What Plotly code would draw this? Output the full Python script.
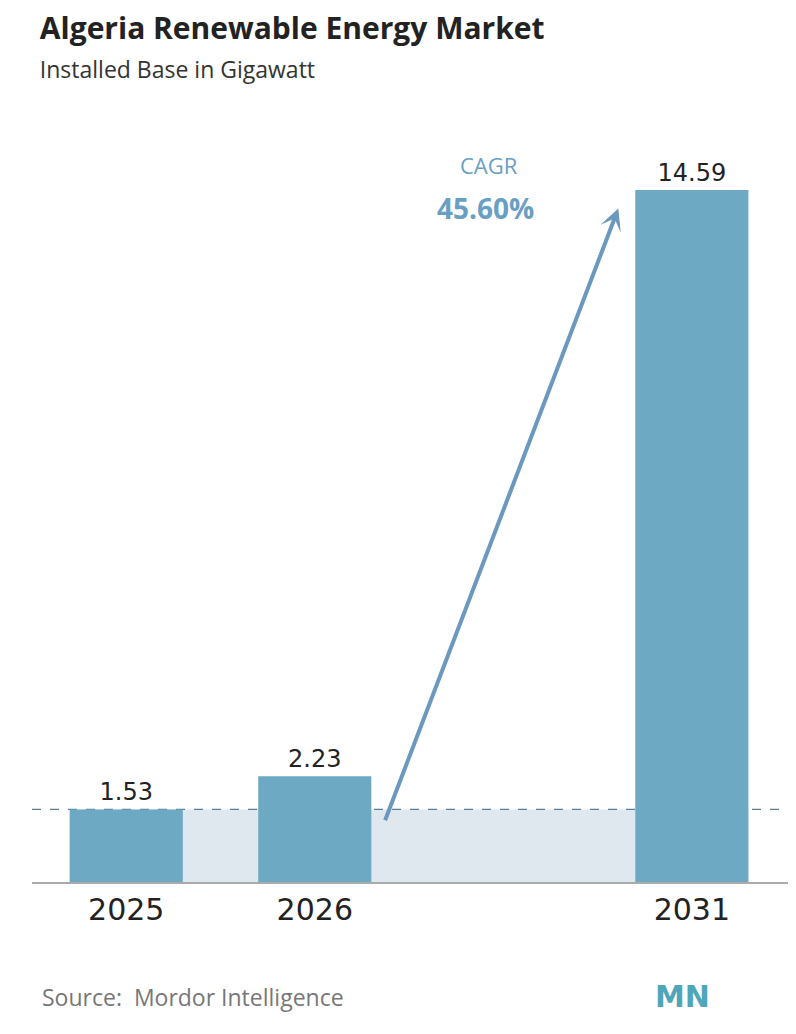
import plotly.graph_objects as go

years = ["2025", "2026", "2031"]
positions = [0, 1, 3]
values = [1.53, 2.23, 14.59]
cagr = "45.60%"

fig = go.Figure()

# light band under the first-year level
fig.add_shape(type="rect", x0=-0.3, x1=3.3, y0=0, y1=values[0],
              fillcolor="#dfe8ef", line_width=0, layer="below")
fig.add_shape(type="line", x0=-0.5, x1=3.51, y0=values[0], y1=values[0],
              line=dict(color="#5b7f99", width=1.3, dash="dash"), layer="below")

fig.add_trace(go.Bar(
    x=positions, y=values, width=0.6,
    marker=dict(color="#6ea9c3", line_width=0),
    text=[f"{v:.2f}" for v in values], textposition="outside",
    textfont=dict(size=24, color="#222", family="DejaVu Sans"),
    cliponaxis=False,
))

# CAGR arrow
fig.add_annotation(x=2.61, y=14.2, ax=1.37, ay=1.27, xref="x", yref="y",
                   axref="x", ayref="y", text="", showarrow=True,
                   arrowhead=3, arrowsize=0.9, arrowwidth=4, arrowcolor="#6a98be")
fig.add_annotation(x=0.605, y=1.06, xref="paper", yref="paper", text="CAGR", showarrow=False,
                   font=dict(size=22, color="#6a9fc4", family="Open Sans"))
fig.add_annotation(x=0.6, y=1.005, xref="paper", yref="paper", text=f"<b>{cagr}</b>",
                   showarrow=False, font=dict(size=28, color="#6a9fc4", family="Open Sans"))

fig.update_layout(
    width=796, height=1034,
    margin=dict(l=24, r=16, t=182, b=160),
    plot_bgcolor="white", paper_bgcolor="white",
    showlegend=False,
    title=dict(
        text="<b>Algeria Renewable Energy Market</b><br><span style='font-size:23px;color:#333'>Installed Base in Gigawatt</span>",
        x=0.04, xanchor="left", y=0.97, yanchor="top",
        font=dict(size=30, color="#222", family="Open Sans"),
    ),
    xaxis=dict(range=[-0.5, 3.51], tickmode="array", tickvals=positions, ticktext=years,
               tickfont=dict(size=30, color="#222", family="DejaVu Sans"),
               showgrid=False, zeroline=False, showline=True,
               linecolor="#aaaaaa", linewidth=2, ticks="", ticklen=0),
    yaxis=dict(range=[0, 14.59], visible=False),
)

fig.add_annotation(text="Source:  Mordor Intelligence", x=0.01, y=-0.166,
                   xref="paper", yref="paper", xanchor="left", yanchor="middle",
                   showarrow=False, font=dict(size=23, color="#777", family="Open Sans"))
# logo hint
fig.add_annotation(text="<b>MN</b>", x=0.86, y=-0.166, xref="paper", yref="paper",
                   xanchor="center", yanchor="middle", showarrow=False,
                   font=dict(size=30, color="#4fa6b8", family="DejaVu Sans"))

fig.write_html("out.html")
